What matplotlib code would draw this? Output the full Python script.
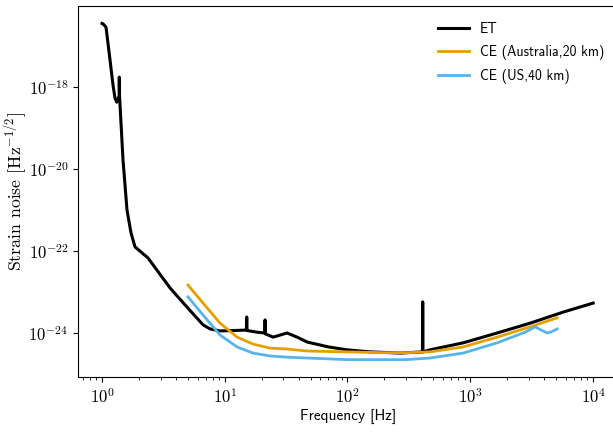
import numpy as np
import matplotlib
matplotlib.use("Agg")
import matplotlib.pyplot as plt

plt.rcParams['mathtext.fontset'] = 'cm'
plt.rcParams['font.family'] = ['cmr10', 'DejaVu Serif']
plt.rcParams['axes.formatter.use_mathtext'] = True

# ET
et_f = [1.0, 1.02, 1.078, 1.162, 1.229, 1.276, 1.318, 1.35, 1.38, 1.383, 1.388, 1.483, 1.598, 1.723,
        1.858, 2.37, 3.58, 4.93, 6.65, 7.59, 9.16, 14.6, 15.0, 15.1, 15.2, 18.3, 21.2, 21.3, 21.4,
        23.4, 24.8, 32.2, 38.8, 46.9, 70, 99, 152, 268, 408, 410, 412, 471, 876, 1656, 3076, 5716, 10040]
et_log = [-16.45, -16.46, -16.54, -17.34, -17.95, -18.27, -18.37, -18.28, -18.22, -17.76, -18.2,
          -19.78, -21.0, -21.56, -21.90, -22.17, -22.90, -23.37, -23.80, -23.90, -23.95, -23.93,
          -23.93, -23.61, -23.94, -23.98, -24.0, -23.68, -24.02, -24.07, -24.10, -24.0, -24.10,
          -24.22, -24.34, -24.41, -24.46, -24.49, -24.46, -23.24, -24.46, -24.41, -24.24, -24.0,
          -23.76, -23.49, -23.27]

# CE Australia 20 km
ce20_f = [5.02, 6.65, 9.16, 12.6, 17.0, 23.4, 32.2, 46.9, 99, 200, 300, 471, 876, 1656, 3076, 5105]
ce20_log = [-22.83, -23.27, -23.76, -24.10, -24.27, -24.37, -24.39, -24.44, -24.46, -24.48, -24.48,
            -24.46, -24.34, -24.10, -23.85, -23.63]

# CE US 40 km
ce40_f = [5.02, 6.65, 9.16, 12.6, 17.0, 23.4, 32.2, 46.9, 100, 300, 471, 876, 1656, 2800, 3381,
          3800, 4236, 4600, 5105]
ce40_log = [-23.12, -23.56, -24.05, -24.34, -24.49, -24.56, -24.59, -24.61, -24.65, -24.65, -24.61,
            -24.49, -24.24, -23.98, -23.85, -23.93, -24.0, -23.97, -23.90]

labels = ['ET', 'CE (Australia,20 km)', 'CE (US,40 km)']
colors = ['black', '#E69F00', '#56B4E9']

fig = plt.figure(figsize=(6.13, 4.34), dpi=100)
ax = fig.add_axes([78/613, 57/434, 540/613, 371/434])

ax.loglog(et_f, 10.0**np.array(et_log), color=colors[0], lw=2.2, label=labels[0])
ax.loglog(ce20_f, 10.0**np.array(ce20_log), color=colors[1], lw=2.0, label=labels[1])
ax.loglog(ce40_f, 10.0**np.array(ce40_log), color=colors[2], lw=2.0, label=labels[2])

ax.set_xlim(10**(-24/122.7), 10**(4 + 25/122.7))
ax.set_ylim(10**(-24 - 44/41), 10**(-18 + 81/41))
ax.set_yticks([1e-24, 1e-22, 1e-20, 1e-18])
ax.yaxis.set_minor_locator(matplotlib.ticker.NullLocator())
ax.tick_params(labelsize=12)

ax.set_xlabel('Frequency [Hz]', fontsize=11, family='cmss10', labelpad=2)
ax.set_ylabel(r'Strain noise [Hz$^{-1/2}$]', fontsize=12.8)
ax.yaxis.set_label_coords(-0.089, 0.5)

leg = ax.legend(loc='upper right', frameon=False, prop={'family': 'cmss10', 'size': 10},
                bbox_to_anchor=(0.998, 0.99), handlelength=2.2, labelspacing=0.65)

fig.savefig('out.png', dpi=100)
